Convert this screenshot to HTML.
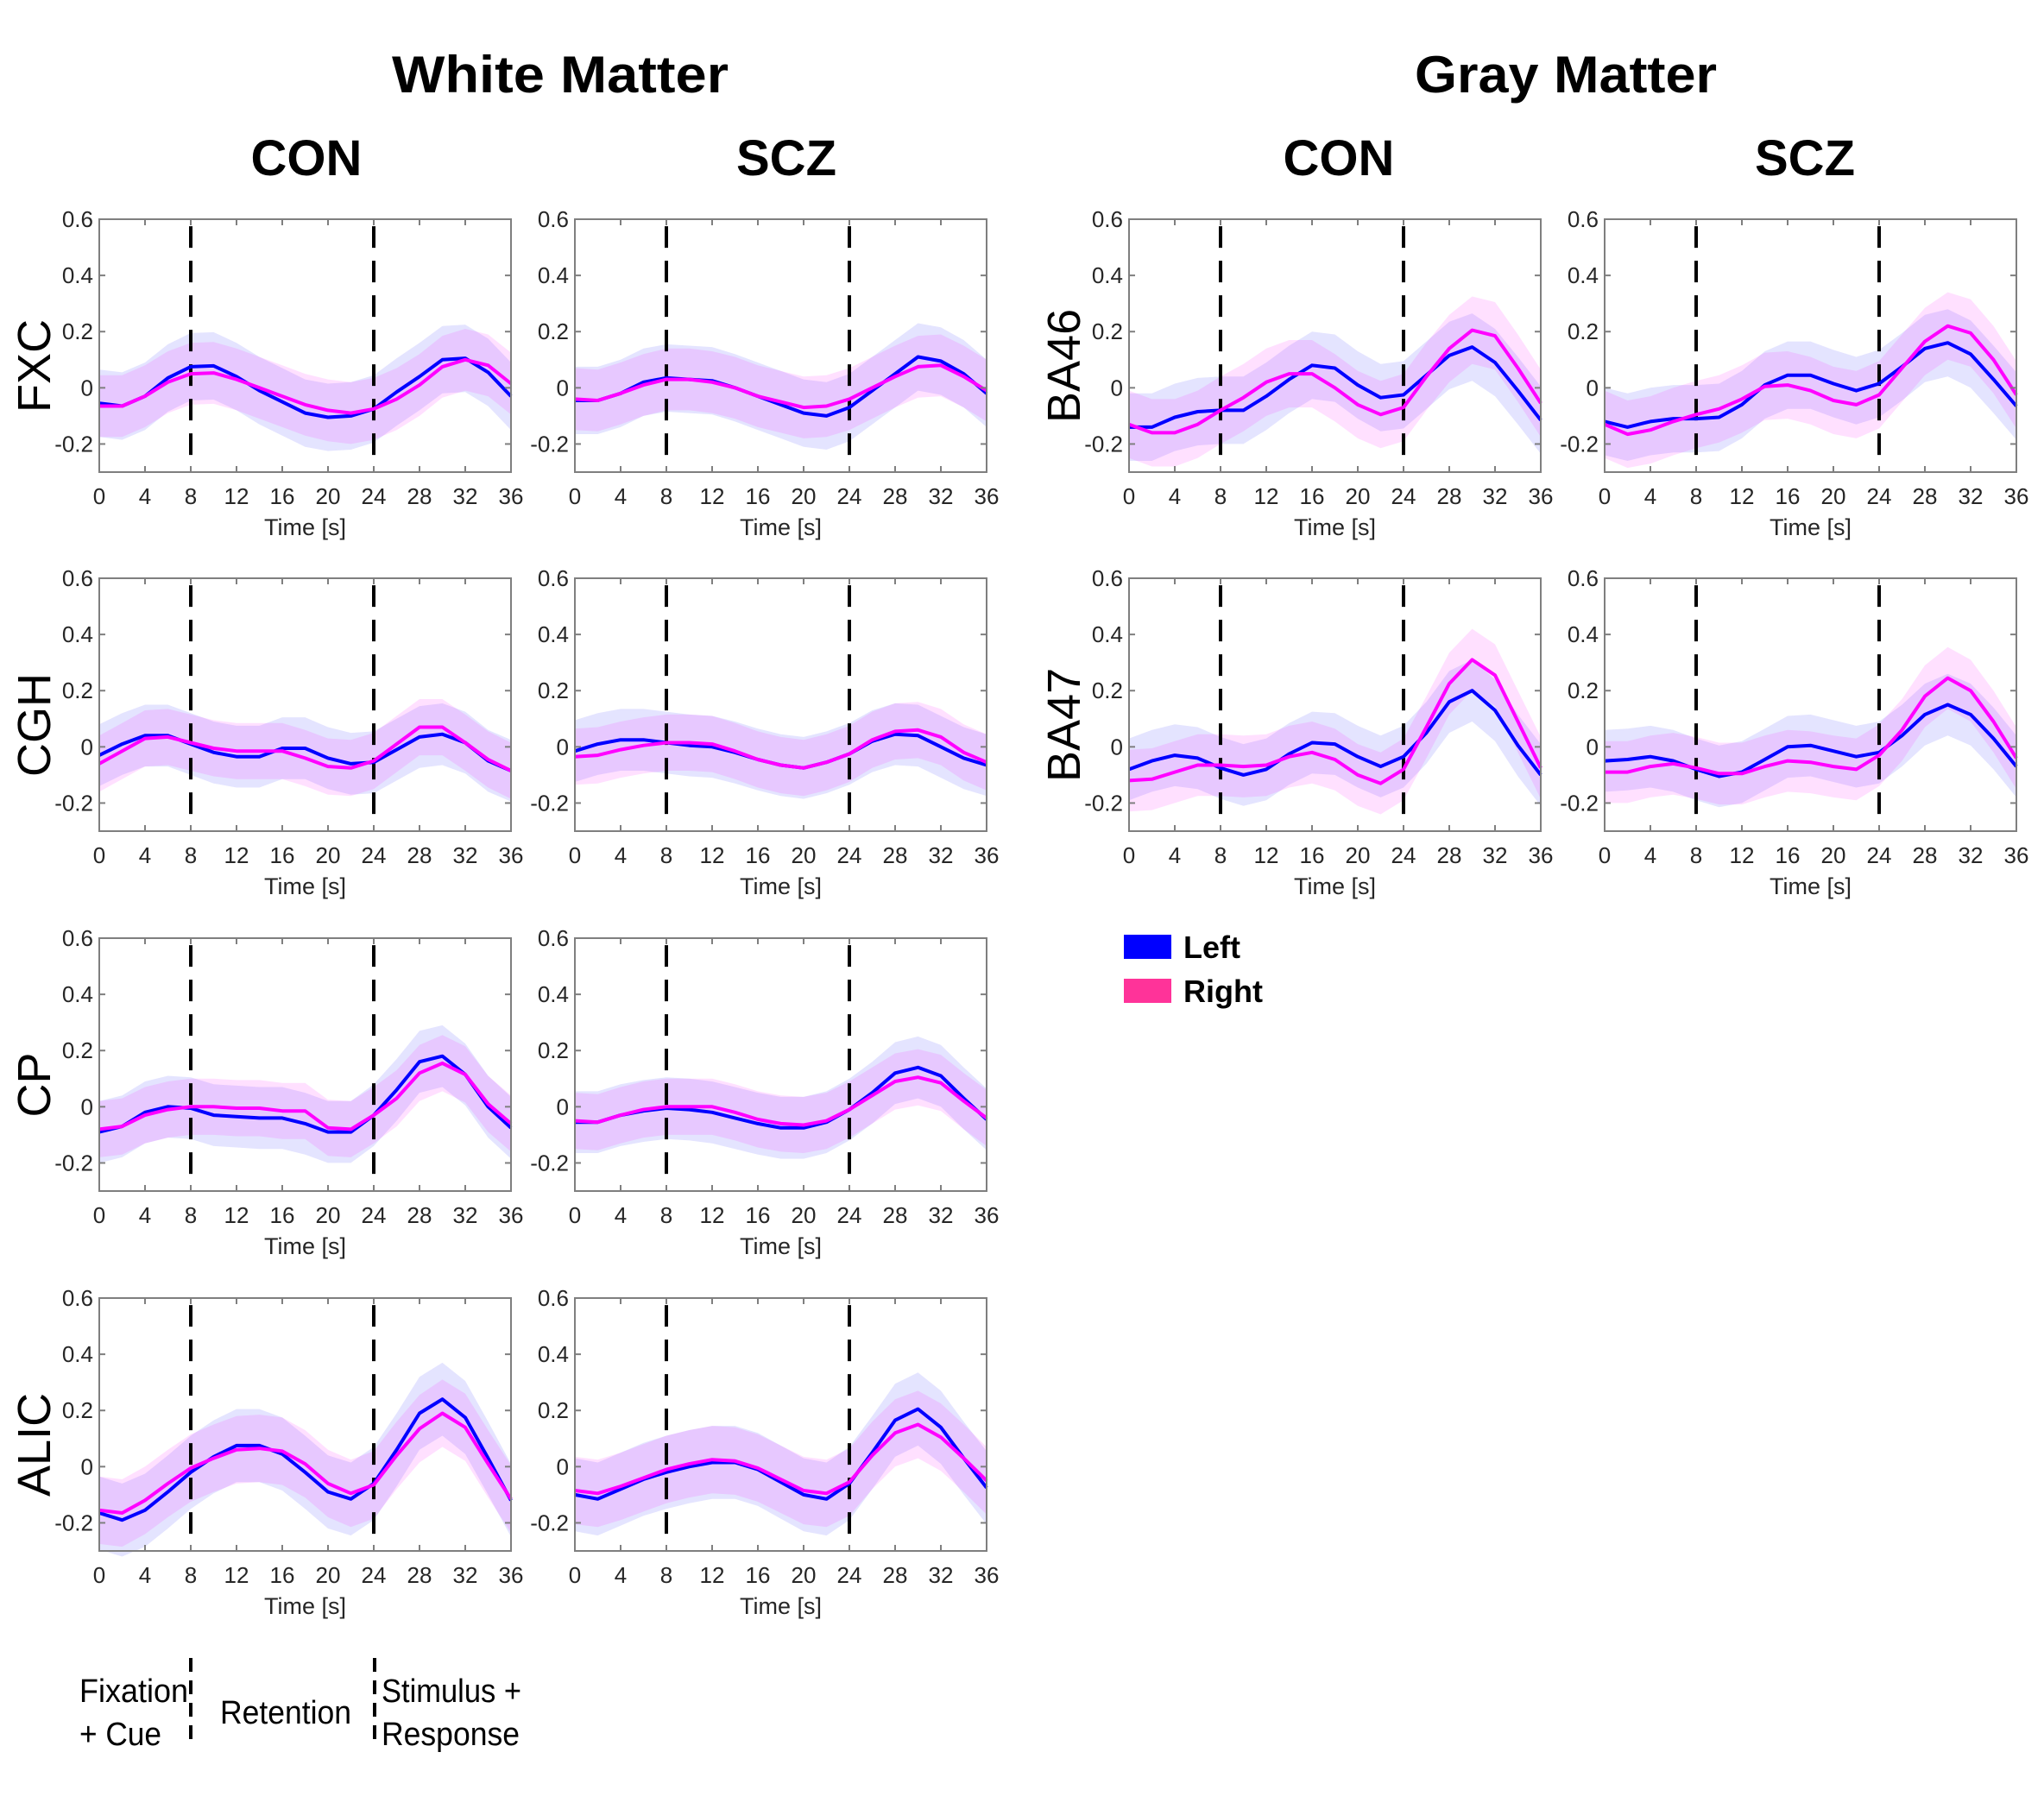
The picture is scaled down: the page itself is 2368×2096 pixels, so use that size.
<!DOCTYPE html>
<html><head><meta charset="utf-8"><style>
html,body{margin:0;padding:0;background:#fff;}
svg{display:block;}
text{font-family:"Liberation Sans",sans-serif;}
</style></head><body>
<svg id="fig" width="2368" height="2096" viewBox="0 0 2368 2096" xmlns="http://www.w3.org/2000/svg">
<text x="649" y="107" font-size="60" font-weight="bold" text-anchor="middle" fill="#000" textLength="390" lengthAdjust="spacingAndGlyphs">White Matter</text>
<text x="1814" y="107" font-size="60" font-weight="bold" text-anchor="middle" fill="#000" textLength="350" lengthAdjust="spacingAndGlyphs">Gray Matter</text>
<text x="355" y="203" font-size="58" font-weight="bold" text-anchor="middle">CON</text>
<text x="911" y="203" font-size="58" font-weight="bold" text-anchor="middle">SCZ</text>
<text x="1551" y="203" font-size="58" font-weight="bold" text-anchor="middle">CON</text>
<text x="2091" y="203" font-size="58" font-weight="bold" text-anchor="middle">SCZ</text>
<g id="panels"></g>
<g>
<rect x="1302" y="1083" width="55" height="28" fill="#0000ff"/>
<text x="1371" y="1110" font-size="36" font-weight="bold">Left</text>
<rect x="1302" y="1134" width="55" height="28" fill="#ff3399"/>
<text x="1371" y="1161" font-size="36" font-weight="bold">Right</text>
</g>
<g font-size="38" fill="#000">
<text x="92" y="1972" textLength="126" lengthAdjust="spacingAndGlyphs">Fixation</text>
<text x="92" y="2022" textLength="95" lengthAdjust="spacingAndGlyphs">+ Cue</text>
<text x="331" y="1997" text-anchor="middle" textLength="152" lengthAdjust="spacingAndGlyphs">Retention</text>
<text x="442" y="1972" textLength="162" lengthAdjust="spacingAndGlyphs">Stimulus +</text>
<text x="442" y="2022" textLength="160" lengthAdjust="spacingAndGlyphs">Response</text>
<line x1="221" y1="1921" x2="221" y2="2025" stroke="#000" stroke-width="4" stroke-dasharray="16 10"/>
<line x1="434" y1="1921" x2="434" y2="2025" stroke="#000" stroke-width="4" stroke-dasharray="16 10"/>
</g>
</svg>
<script>
const timeTicks = [0,4,8,12,16,20,24,28,32,36];
const yTicks = [-0.2,0,0.2,0.4,0.6];
const yTickLabels = ["-0.2","0","0.2","0.4","0.6"];
const times = [0,2,4,6,8,10,12,14,16,18,20,22,24,26,28,30,32,34,36];
const eventTimes = [8,24];
const regions = ["FXC","CGH","CP","ALIC","BA46","BA47"];

const fxcConLeft  = [-0.055,-0.065,-0.03,0.035,0.075,0.078,0.04,-0.01,-0.05,-0.09,-0.105,-0.1,-0.075,-0.015,0.04,0.1,0.105,0.055,-0.03];
const fxcConRight = [-0.065,-0.065,-0.03,0.02,0.05,0.053,0.03,0.0,-0.03,-0.06,-0.08,-0.09,-0.075,-0.04,0.01,0.075,0.1,0.08,0.015];
const fxcSczLeft  = [-0.045,-0.045,-0.02,0.02,0.035,0.03,0.025,0.0,-0.03,-0.06,-0.09,-0.1,-0.07,-0.01,0.05,0.11,0.095,0.05,-0.02];
const fxcSczRight = [-0.04,-0.045,-0.02,0.01,0.03,0.03,0.02,0.0,-0.03,-0.05,-0.07,-0.065,-0.04,0.0,0.04,0.075,0.08,0.04,-0.01];
const cghConLeft  = [-0.03,0.01,0.04,0.04,0.01,-0.02,-0.035,-0.035,-0.005,-0.005,-0.04,-0.06,-0.055,-0.01,0.035,0.045,0.015,-0.05,-0.085];
const cghConRight = [-0.06,-0.015,0.03,0.035,0.015,-0.005,-0.015,-0.015,-0.015,-0.04,-0.07,-0.075,-0.05,0.01,0.07,0.07,0.015,-0.045,-0.085];
const cghSczLeft  = [-0.015,0.01,0.025,0.025,0.015,0.005,0.0,-0.02,-0.045,-0.065,-0.075,-0.055,-0.025,0.02,0.045,0.04,0.0,-0.04,-0.065];
const cghSczRight = [-0.035,-0.03,-0.01,0.005,0.015,0.015,0.01,-0.015,-0.045,-0.065,-0.075,-0.055,-0.025,0.025,0.055,0.06,0.035,-0.02,-0.055];
const cpConLeft   = [-0.09,-0.07,-0.02,0.0,-0.005,-0.03,-0.035,-0.04,-0.04,-0.06,-0.09,-0.09,-0.03,0.06,0.16,0.18,0.115,0.0,-0.075];
const cpConRight  = [-0.08,-0.07,-0.03,-0.01,0.0,0.0,-0.005,-0.005,-0.015,-0.015,-0.075,-0.08,-0.03,0.03,0.12,0.155,0.115,0.01,-0.06];
const cpSczLeft   = [-0.055,-0.055,-0.03,-0.015,-0.005,-0.01,-0.02,-0.04,-0.06,-0.075,-0.075,-0.055,-0.01,0.05,0.12,0.14,0.11,0.03,-0.045];
const cpSczRight  = [-0.05,-0.055,-0.03,-0.01,0.0,0.0,0.0,-0.02,-0.045,-0.06,-0.065,-0.05,-0.01,0.04,0.09,0.105,0.085,0.02,-0.04];
const alicConLeft = [-0.165,-0.19,-0.155,-0.09,-0.02,0.035,0.075,0.075,0.045,-0.02,-0.09,-0.115,-0.06,0.06,0.19,0.24,0.175,0.03,-0.12];
const alicConRight= [-0.155,-0.165,-0.12,-0.06,-0.005,0.03,0.06,0.065,0.055,0.01,-0.06,-0.095,-0.065,0.04,0.135,0.19,0.14,0.01,-0.115];
const alicSczLeft = [-0.1,-0.115,-0.08,-0.045,-0.02,0.0,0.015,0.015,-0.01,-0.055,-0.1,-0.115,-0.06,0.05,0.165,0.205,0.14,0.03,-0.075];
const alicSczRight= [-0.085,-0.095,-0.07,-0.04,-0.01,0.01,0.025,0.02,-0.005,-0.045,-0.085,-0.095,-0.055,0.04,0.12,0.15,0.105,0.03,-0.05];
const ba46ConLeft = [-0.14,-0.14,-0.105,-0.085,-0.08,-0.08,-0.03,0.03,0.08,0.07,0.01,-0.035,-0.025,0.045,0.115,0.145,0.09,-0.01,-0.115];
const ba46ConRight= [-0.13,-0.16,-0.16,-0.13,-0.08,-0.035,0.02,0.05,0.05,0.0,-0.06,-0.095,-0.07,0.04,0.14,0.205,0.185,0.07,-0.055];
const ba46SczLeft = [-0.12,-0.14,-0.12,-0.11,-0.11,-0.105,-0.06,0.01,0.045,0.045,0.015,-0.01,0.015,0.075,0.14,0.16,0.12,0.03,-0.065];
const ba46SczRight= [-0.13,-0.165,-0.15,-0.12,-0.095,-0.075,-0.04,0.005,0.01,-0.01,-0.045,-0.06,-0.025,0.07,0.165,0.22,0.195,0.1,-0.025];
const ba47ConLeft = [-0.08,-0.05,-0.03,-0.04,-0.075,-0.1,-0.08,-0.025,0.015,0.01,-0.035,-0.07,-0.035,0.05,0.16,0.2,0.13,0.005,-0.1];
const ba47ConRight= [-0.12,-0.115,-0.09,-0.065,-0.065,-0.07,-0.065,-0.035,-0.02,-0.045,-0.1,-0.13,-0.08,0.07,0.225,0.31,0.255,0.09,-0.075];
const ba47SczLeft = [-0.05,-0.045,-0.035,-0.05,-0.08,-0.105,-0.09,-0.045,0.0,0.005,-0.015,-0.035,-0.02,0.04,0.115,0.15,0.115,0.03,-0.07];
const ba47SczRight= [-0.09,-0.09,-0.07,-0.06,-0.075,-0.095,-0.095,-0.07,-0.05,-0.055,-0.07,-0.08,-0.03,0.06,0.18,0.245,0.2,0.09,-0.04];
// band half-widths (shaded error) per panel: [left, right]
const bandFxc = [0.12,0.11];
const bandCgh = [0.11,0.10];
const bandCp = [0.11,0.10];
const bandAlic = [0.13,0.12];
const bandBa46 = [0.12,0.12];
const bandBa47 = [0.11,0.11];

const NS = "http://www.w3.org/2000/svg";
const root = document.getElementById("panels");
const colX = [115,666,1308,1859];
const rowY = [254,670,1087,1504];
const W = 477, H = 293;
const Y0 = -0.3, Y1 = 0.6;

const panels = [
 {name:"fxc-con",c:0,r:0,L:fxcConLeft,R:fxcConRight,b:bandFxc,label:"FXC"},
 {name:"fxc-scz",c:1,r:0,L:fxcSczLeft,R:fxcSczRight,b:bandFxc},
 {name:"cgh-con",c:0,r:1,L:cghConLeft,R:cghConRight,b:bandCgh,label:"CGH"},
 {name:"cgh-scz",c:1,r:1,L:cghSczLeft,R:cghSczRight,b:bandCgh},
 {name:"cp-con",c:0,r:2,L:cpConLeft,R:cpConRight,b:bandCp,label:"CP"},
 {name:"cp-scz",c:1,r:2,L:cpSczLeft,R:cpSczRight,b:bandCp},
 {name:"alic-con",c:0,r:3,L:alicConLeft,R:alicConRight,b:bandAlic,label:"ALIC"},
 {name:"alic-scz",c:1,r:3,L:alicSczLeft,R:alicSczRight,b:bandAlic},
 {name:"ba46-con",c:2,r:0,L:ba46ConLeft,R:ba46ConRight,b:bandBa46,label:"BA46"},
 {name:"ba46-scz",c:3,r:0,L:ba46SczLeft,R:ba46SczRight,b:bandBa46},
 {name:"ba47-con",c:2,r:1,L:ba47ConLeft,R:ba47ConRight,b:bandBa47,label:"BA47"},
 {name:"ba47-scz",c:3,r:1,L:ba47SczLeft,R:ba47SczRight,b:bandBa47}
];

function mk(tag, attrs, parent){
  const e = document.createElementNS(NS, tag);
  for (const k in attrs) e.setAttribute(k, attrs[k]);
  parent.appendChild(e);
  return e;
}

panels.forEach(p => {
  const x0 = colX[p.c], y0 = rowY[p.r];
  const sx = t => x0 + (t/36)*W;
  const sy = v => y0 + (Y1 - v)/(Y1 - Y0)*H;
  const g = mk("g", {}, root);
  
  

  function band(vals, hw, fill, op, nm){
    let d = "";
    vals.forEach((v,i)=>{ d += (i?"L":"M") + sx(times[i]).toFixed(1) + " " + sy(v+hw).toFixed(1) + " "; });
    for (let i=vals.length-1;i>=0;i--) d += "L" + sx(times[i]).toFixed(1) + " " + sy(vals[i]-hw).toFixed(1) + " ";
    const e = mk("path", {d: d+"Z", fill: fill, "fill-opacity": op, stroke:"none"}, g);
    
    
  }
  function line(vals, col, nm){
    const pts = vals.map((v,i)=> sx(times[i]).toFixed(1)+","+sy(v).toFixed(1)).join(" ");
    const e = mk("polyline", {points: pts, fill:"none", stroke: col, "stroke-width": 4, "stroke-linejoin":"round"}, g);
    
    
  }
  band(p.L, p.b[0], "#0000ff", 0.106, "left-error-band");
  band(p.R, p.b[1], "#ff00ff", 0.12, "right-error-band");

  eventTimes.forEach(t => {
    const e = mk("line", {x1: sx(t), x2: sx(t), y1: sy(0.575), y2: sy(-0.24), stroke:"#000", "stroke-width":4, "stroke-dasharray":"25 15"}, g);
    
    
  });
  line(p.L, "#0000ff", "left-line");
  line(p.R, "#ff00ff", "right-line");

  const fr = mk("rect", {x:x0, y:y0, width:W, height:H, fill:"none", stroke:"#7f7f7f", "stroke-width":2}, g);
  
  

  timeTicks.forEach(t => {
    const x = sx(t);
    mk("line", {x1:x, x2:x, y1:y0+H, y2:y0+H-7, stroke:"#7f7f7f", "stroke-width":2}, g);
    mk("line", {x1:x, x2:x, y1:y0, y2:y0+7, stroke:"#7f7f7f", "stroke-width":2}, g);
    const tx = mk("text", {x:x, y:y0+H+37, "font-size":26, "text-anchor":"middle", fill:"#262626"}, g);
    tx.textContent = t;
    
    
  });
  yTicks.forEach((v,i) => {
    const y = sy(v);
    mk("line", {x1:x0, x2:x0+7, y1:y, y2:y, stroke:"#7f7f7f", "stroke-width":2}, g);
    mk("line", {x1:x0+W, x2:x0+W-7, y1:y, y2:y, stroke:"#7f7f7f", "stroke-width":2}, g);
    const tx = mk("text", {x:x0-7, y:y+9, "font-size":26, "text-anchor":"end", fill:"#262626"}, g);
    tx.textContent = yTickLabels[i];
    
    
  });
  const xl = mk("text", {x:x0+W/2, y:y0+H+73, "font-size":27, "text-anchor":"middle", fill:"#262626"}, g);
  xl.textContent = "Time [s]";
  
  
  if (p.label){
    const lx = x0 - 57, ly = y0 + H*0.58;
    const rl = mk("text", {x:lx, y:ly, "font-size":54, "text-anchor":"middle", fill:"#000", transform:"rotate(-90 "+lx+" "+ly+")"}, g);
    rl.textContent = p.label;
    
    
  }
});
</script>
</body></html>
